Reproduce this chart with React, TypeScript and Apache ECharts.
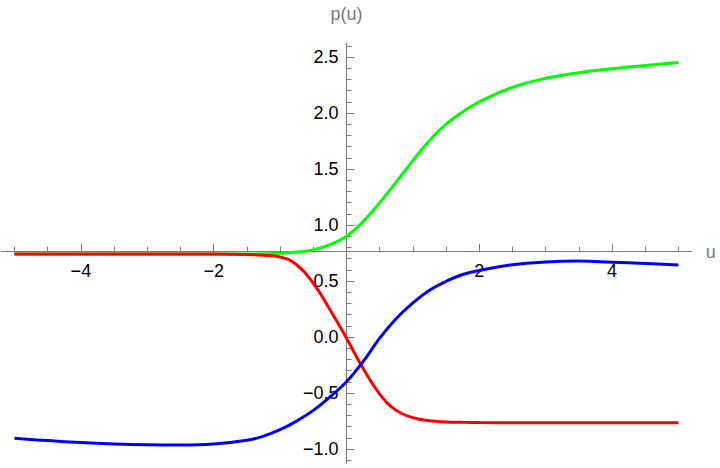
import React, { useEffect, useRef } from "react";
import * as echarts from "echarts";

const uValues = [-5, -4.5, -4, -3.5, -3, -2.5, -2, -1.5, -1.25, -1, -0.75, -0.5, -0.25, 0, 0.25, 0.5, 0.75, 1, 1.25, 1.5, 1.75, 2, 2.5, 3, 3.5, 4, 4.5, 5];
const greenValues = [0.74, 0.74, 0.74, 0.74, 0.74, 0.74, 0.74, 0.741, 0.743, 0.748, 0.758, 0.778, 0.825, 0.9, 1.03, 1.2, 1.385, 1.575, 1.755, 1.9, 2.01, 2.1, 2.23, 2.31, 2.36, 2.395, 2.425, 2.45];
const redValues = [0.74, 0.74, 0.74, 0.74, 0.74, 0.74, 0.74, 0.737, 0.73, 0.715, 0.645, 0.48, 0.245, -0.01, -0.28, -0.51, -0.655, -0.72, -0.748, -0.758, -0.762, -0.764, -0.765, -0.765, -0.765, -0.765, -0.765, -0.765];
const blueValues = [-0.905, -0.925, -0.943, -0.955, -0.962, -0.964, -0.955, -0.922, -0.885, -0.828, -0.75, -0.655, -0.535, -0.4, -0.22, -0.01, 0.165, 0.305, 0.418, 0.497, 0.558, 0.595, 0.645, 0.67, 0.678, 0.668, 0.656, 0.643];

const xMajorTicks = [-4, -2, 2, 4];
const xMinorTicks = [-5, -4.5, -3.5, -3, -2.5, -1.5, -1, -0.5, 0.5, 1, 1.5, 2.5, 3, 3.5, 4.5, 5];
const yMajorTicks = [-1, -0.5, 0, 0.5, 1, 1.5, 2, 2.5];
const yMinorTicks = [-1.1, -0.9, -0.8, -0.7, -0.6, -0.4, -0.3, -0.2, -0.1, 0.1, 0.2, 0.3, 0.4, 0.6, 0.7, 0.8, 0.9, 1.1, 1.2, 1.3, 1.4, 1.6, 1.7, 1.8, 1.9, 2.1, 2.2, 2.3, 2.4, 2.6];

const fmt = (v: number, d: number) => (v < 0 ? "\u2212" : "") + Math.abs(v).toFixed(d);

export default function App() {
  const ref = useRef<HTMLDivElement>(null);
  useEffect(() => {
    if (!ref.current) return;
    const chart = echarts.init(ref.current, null, { renderer: "svg" });
    const axisGray = "#7a7a7a";
    const font = "'Liberation Sans', Arial, sans-serif";
    const gridLeft = 1.2, gridTop = 43, gridW = 690.6, gridH = 420;
    const xMin = -5.2, xMax = 5.2, yMin = -1.125, yMax = 2.625;
    const xAxisPix = 251.7;
    const yAxisPix = gridLeft + ((0 - xMin) / (xMax - xMin)) * gridW;
    const xOffset = -(gridTop + gridH - xAxisPix);
    const yOffset = -(yAxisPix - gridLeft);
    const mk = (vals: number[]) => uValues.map((u, i) => [u, vals[i]]);
    const line = (name: string, vals: number[], color: string) => ({
      type: "line", name, data: mk(vals), xAxisIndex: 0, yAxisIndex: 0,
      showSymbol: false, smooth: 0.45, lineStyle: { color, width: 3 },
    });
    chart.setOption({
      animation: false,
      grid: { left: gridLeft, top: gridTop, width: gridW, height: gridH, containLabel: false },
      xAxis: [
        {
          type: "value", min: xMin, max: xMax, position: "bottom", offset: xOffset,
          axisLine: { onZero: false, lineStyle: { color: axisGray, width: 1 } },
          axisTick: { inside: true, length: 8, customValues: xMajorTicks, lineStyle: { color: axisGray } },
          axisLabel: { customValues: xMajorTicks, formatter: (v: number) => fmt(v, 0), color: "#000", fontSize: 18, fontFamily: font, margin: 10 },
          splitLine: { show: false },
          name: "u", nameLocation: "end", nameGap: 14,
          nameTextStyle: { color: axisGray, fontSize: 18, fontFamily: font },
        },
        {
          type: "value", min: xMin, max: xMax, position: "bottom", offset: xOffset,
          axisLine: { show: false, onZero: false },
          axisTick: { inside: true, length: 5, customValues: xMinorTicks, lineStyle: { color: axisGray } },
          axisLabel: { show: false },
          splitLine: { show: false },
        },
      ],
      yAxis: [
        {
          type: "value", min: yMin, max: yMax, position: "left", offset: yOffset,
          axisLine: { show: true, onZero: false, lineStyle: { color: axisGray, width: 1 } },
          axisTick: { show: true, inside: true, length: 8, customValues: yMajorTicks, lineStyle: { color: axisGray } },
          axisLabel: { customValues: yMajorTicks, formatter: (v: number) => fmt(v, 1), color: "#000", fontSize: 18, fontFamily: font, margin: 8 },
          splitLine: { show: false },
          name: "p(u)", nameLocation: "end", nameGap: 20,
          nameTextStyle: { color: axisGray, fontSize: 18, fontFamily: font },
        },
        {
          type: "value", min: yMin, max: yMax, position: "left", offset: yOffset,
          axisLine: { show: false, onZero: false },
          axisTick: { show: true, inside: true, length: 5, customValues: yMinorTicks, lineStyle: { color: axisGray } },
          axisLabel: { show: false },
          splitLine: { show: false },
        },
      ],
      series: [
        line("green", greenValues, "#00ff00"),
        line("red", redValues, "#ff0000"),
        line("blue", blueValues, "#0000ff"),
      ],
    });
    return () => chart.dispose();
  }, []);
  return <div ref={ref} style={{ position: "absolute", left: 0, top: 0, width: 720, height: 468, background: "#fff" }} />;
}
